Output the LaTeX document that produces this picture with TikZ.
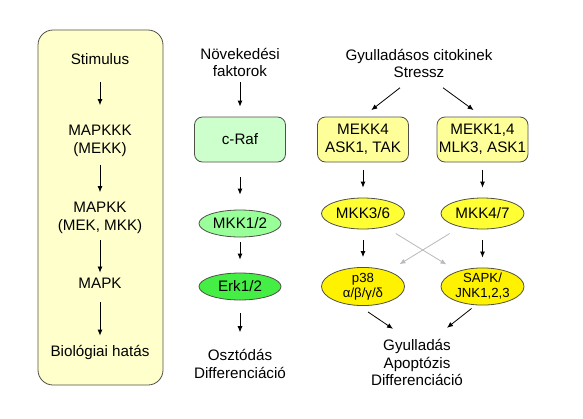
\documentclass[tikz,border=0pt]{standalone}
\usepackage{fontspec}
\setmainfont{Liberation Sans}
\usepackage{tikz}
\usetikzlibrary{arrows.meta, shapes.geometric}

\definecolor{panelyellow}{HTML}{FFFFCC}
\definecolor{edgegray}{HTML}{505048}
\definecolor{rafgreen}{HTML}{CCFFCC}
\definecolor{mkkgreen}{HTML}{99FF99}
\definecolor{erkgreen}{HTML}{44EE44}
\definecolor{boxyellow}{HTML}{FFFF99}
\definecolor{mkkyellow}{HTML}{FFFF33}
\definecolor{crossgray}{HTML}{BBBBBB}

\begin{document}
\begin{tikzpicture}[x=1pt, y=-1pt, every node/.style={font=\fontsize{15.2}{17.8}\selectfont, inner sep=0pt}]

	\tikzstyle{arrow} = [line width=0.8pt, -{Latex[length=6pt, width=5pt]}]
	\tikzstyle{crossarrow} = [arrow, draw=crossgray, fill=crossgray]
	\tikzstyle{txt} = [align=center]
	\tikzstyle{box} = [draw=edgegray, line width=0.8pt, rounded corners=8pt, minimum width=91pt, minimum height=45pt, align=center]
	\tikzstyle{kinase} = [ellipse, draw=edgegray, line width=0.8pt, minimum width=83pt, minimum height=31pt, align=center]
	\useasboundingbox (0,0) rectangle (583,418);

	\node[draw=edgegray, fill=panelyellow, line width=0.8pt, rounded corners=15pt,
	minimum width=125pt, minimum height=355pt] (panel) at (100.5,207.5) {};
	\node[txt] (stim)   at (100,59)  {Stimulus};
	\node[txt] (mapkkk) at (100,141) {MAPKKK\\(MEKK)};
	\node[txt] (mapkk)  at (100,218) {MAPKK\\(MEK, MKK)};
	\node[txt] (mapk)   at (100,283) {MAPK};
	\node[txt] (bio)    at (100,352) {Biológiai hatás};
\draw [arrow, shorten <=17pt, shorten >=20pt] (stim) -- (mapkkk);
\draw [arrow, shorten <=8pt, shorten >=10pt] (mapkkk) -- (mapkk);
\draw [arrow, shorten <=6pt, shorten >=5pt] (mapkk) -- (mapk);
\draw [arrow, shorten <=14pt, shorten >=9pt] (mapk) -- (bio);

	\node[txt] (grow) at (240,62.5) {Növekedési\\faktorok};
	\node[box, fill=rafgreen] (craf) at (240,139.5) {c-Raf};
	\node[kinase, fill=mkkgreen, minimum width=82pt, minimum height=27pt] (mkk12) at (240,223.5) {MKK1/2};
	\node[kinase, fill=erkgreen, minimum width=82pt, minimum height=27pt] (erk) at (240,286.5) {Erk1/2};
	\node[txt] (oszt) at (240,364) {Osztódás\\Differenciáció};
\draw [arrow, shorten <=5pt, shorten >=10pt] (grow) -- (craf);
\draw [arrow, shorten <=15pt, shorten >=15pt] (craf) -- (mkk12);
\draw [arrow, shorten <=5pt, shorten >=13pt] (mkk12) -- (erk);
\draw [arrow, shorten <=13pt, shorten >=17pt] (erk) -- (oszt);

	\node[txt] (gyul) at (419,63.5) {Gyulladásos citokinek\\Stressz};
	\node[box, fill=boxyellow] (mekk4) at (363,139.5) {MEKK4\\ASK1, TAK};
	\node[box, fill=boxyellow] (mekk14) at (482.5,139.5) {MEKK1,4\\MLK3, ASK1};
	\node[kinase, fill=mkkyellow] (mkk36) at (363,213.5) {MKK3/6};
	\node[kinase, fill=mkkyellow] (mkk47) at (482.5,213.5) {MKK4/7};
	\node[kinase, fill=yellow, minimum height=37pt, font=\fontsize{13.2}{15}\selectfont] (p38) at (363,286.5) {p38\\α/β/γ/δ};
	\node[kinase, fill=yellow, minimum height=37pt, font=\fontsize{13.2}{15}\selectfont] (sapk) at (482.5,286.5) {SAPK/\\JNK1,2,3};
	\node[txt] (res) at (417,362.5) {Gyulladás\\Apoptózis\\Differenciáció};
\draw [arrow, shorten >=10.5pt] ([xshift=-19pt, yshift=-9.5pt]gyul.south) -- (mekk4.north);
\draw [arrow, shorten >=11pt] ([xshift=24pt, yshift=-9.5pt]gyul.south) -- (mekk14.north);
\draw [arrow, shorten <=8pt, shorten >=10pt] (mekk4) -- (mkk36);
\draw [arrow, shorten <=8pt, shorten >=10pt] (mekk14) -- (mkk47);
\draw [arrow, shorten <=11pt, shorten >=10pt] (mkk36) -- (p38);
\draw [arrow, shorten <=11pt, shorten >=10pt] (mkk47) -- (sapk);
\draw [crossarrow, shorten <=12.5pt, shorten >=13pt] (mkk36) -- (sapk);
\draw [crossarrow, shorten <=12.5pt, shorten >=13pt] (mkk47) -- (p38);
\draw [arrow] ([xshift=5pt, yshift=-6pt]p38.south) -- ([xshift=-24pt, yshift=10pt]res.north);
\draw [arrow] ([xshift=-11pt, yshift=-3pt]sapk.south) -- ([xshift=30pt, yshift=11pt]res.north);

\end{tikzpicture}
\end{document}
